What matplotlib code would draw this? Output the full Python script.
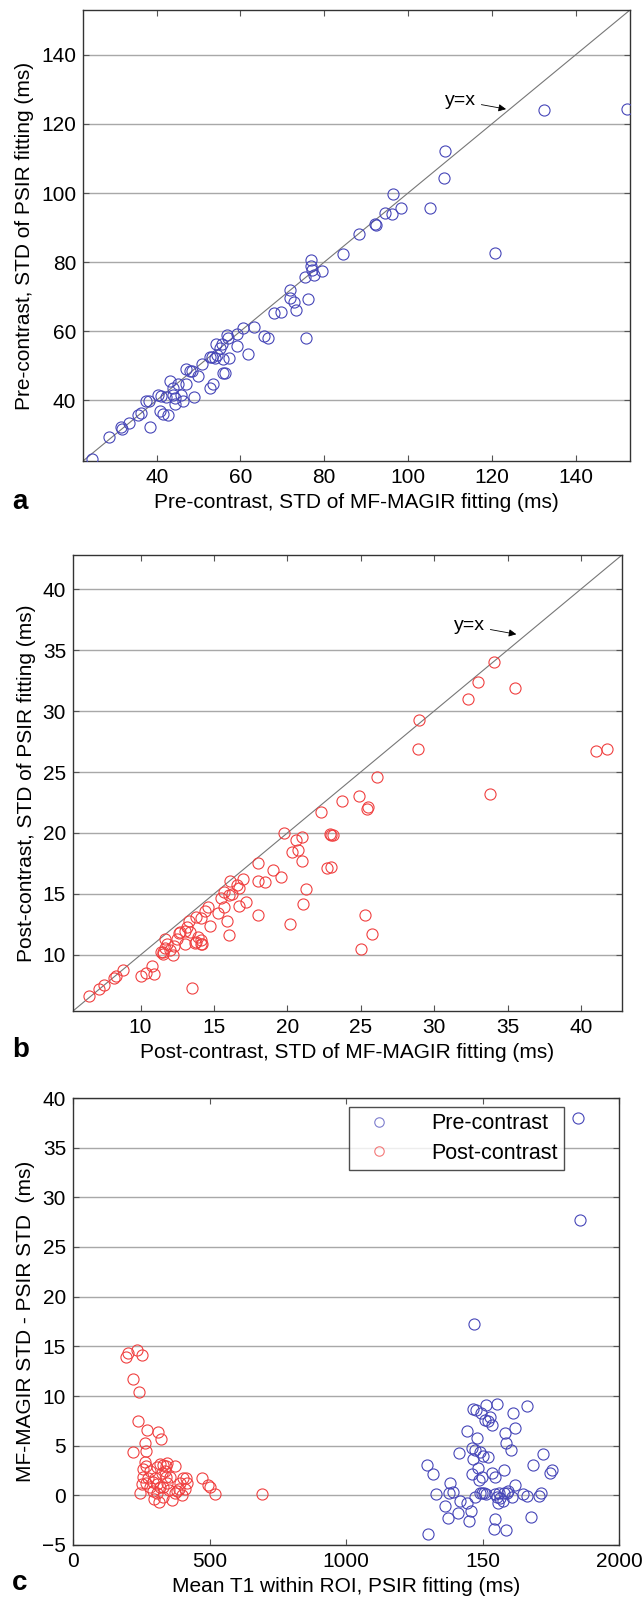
import matplotlib
matplotlib.use("Agg")
import matplotlib.pyplot as plt

plt.rcParams['font.family'] = ['Liberation Sans', 'DejaVu Sans']

# --- panel a: pre-contrast STD, MF-MAGIR vs PSIR ---
pre_magir = [132.4, 152.4, 108.8, 108.5, 96.4, 98.3, 94.4, 96.1, 105.2, 92.1, 92.3, 88.4,
             84.4, 120.7, 76.9, 24.5, 28.6, 31.5, 31.6, 33.4, 35.5, 36.3, 38.5, 37.5, 38.2,
             40.7, 41.5, 42.7, 40.3, 41.1, 42.2, 43.1, 43.9, 44.3, 44.3, 45.1, 46.3, 47.0,
             47.0, 47.9, 48.5, 48.9, 49.9, 50.7, 52.7, 53.5, 52.7, 53.3, 53.9, 54.1, 55.1,
             55.9, 56.3, 55.9, 56.7, 57.2, 57.1, 59.1, 59.1, 60.5, 61.9, 63.3, 65.5, 66.5,
             68.0, 69.6, 71.9, 71.9, 72.7, 73.3, 75.3, 76.1, 75.7, 76.9, 77.1, 77.6, 79.5,
             43.9, 45.9, 54.5, 55.7]
pre_psir = [124.1, 124.4, 112.3, 104.4, 99.8, 95.7, 94.3, 93.8, 95.7, 91.1, 90.7, 88.0,
            82.2, 82.5, 78.8, 23.1, 29.4, 32.2, 31.7, 33.4, 35.6, 36.3, 32.2, 39.9, 39.9,
            37.0, 36.0, 35.6, 41.4, 41.2, 40.9, 45.5, 43.6, 40.7, 38.8, 44.6, 39.9, 44.6,
            49.1, 48.4, 48.6, 41.0, 47.0, 50.4, 43.6, 44.6, 52.5, 52.6, 52.1, 56.2, 55.2,
            51.8, 47.9, 47.9, 59.0, 52.3, 58.1, 59.2, 55.6, 60.8, 53.4, 61.2, 58.6, 58.1,
            65.3, 65.6, 71.9, 69.5, 68.5, 66.0, 75.7, 69.2, 58.1, 80.6, 77.6, 76.4, 77.4,
            41.6, 41.6, 53.2, 56.3]

# --- panel b: post-contrast STD ---
post_magir = [34.1, 33.0, 32.3, 35.5, 29.0, 28.9, 41.0, 41.8, 26.1, 24.9, 33.8, 23.7,
              25.4, 25.5, 23.0, 23.0, 25.3, 25.8, 25.0, 22.3, 19.8, 20.6, 21.0, 20.3, 20.7,
              21.0, 22.9, 23.1, 22.7, 18.0, 19.0, 19.6, 18.0, 18.5, 21.3, 21.1, 20.2, 18.0,
              17.2, 16.7, 17.0, 16.6, 16.7, 16.1, 16.0, 16.2, 15.7, 15.5, 15.7, 15.3, 15.9,
              16.0, 14.6, 14.4, 14.1, 13.8, 14.7, 13.9, 14.1, 14.2, 13.7, 13.3, 13.2, 13.4,
              13.0, 12.7, 12.6, 13.0, 12.3, 11.7, 11.7, 11.4, 11.5, 6.5, 7.2, 7.5, 8.2, 8.3,
              8.8, 10.0, 10.4, 10.8, 10.9, 11.5, 11.8, 12.0, 12.2, 13.5, 13.8, 14.1, 12.5]
post_psir = [34.0, 32.4, 31.0, 31.9, 29.3, 26.9, 26.7, 26.9, 24.6, 23.0, 23.2, 22.6,
             22.0, 22.1, 19.8, 17.2, 13.3, 11.7, 10.5, 21.7, 20.0, 19.4, 19.7, 18.4, 18.6,
             17.7, 19.9, 19.8, 17.1, 17.5, 17.0, 16.4, 16.1, 16.0, 15.4, 14.2, 12.5, 13.3,
             14.3, 14.0, 16.2, 15.7, 15.5, 16.1, 14.9, 15.0, 15.2, 14.7, 13.9, 13.4, 12.8,
             11.6, 13.9, 13.6, 13.0, 13.1, 12.4, 11.5, 10.9, 10.9, 11.0, 12.8, 12.3, 11.9,
             12.0, 11.9, 11.8, 10.9, 10.7, 11.3, 10.6, 10.2, 10.1, 6.6, 7.2, 7.5, 8.1, 8.3,
             8.8, 8.3, 8.5, 9.1, 8.4, 10.2, 10.9, 10.4, 10.0, 7.3, 11.1, 11.2, 11.3]

# --- panel c: difference vs mean T1 ---
pre_t1 = [1851, 1856, 1470, 1302, 1298, 1318, 1330, 1363, 1381, 1379, 1393, 1375, 1409,
          1418, 1414, 1444, 1451, 1458, 1442, 1463, 1466, 1460, 1473, 1466, 1476, 1481,
          1485, 1491, 1488, 1497, 1491, 1497, 1505, 1512, 1493, 1509, 1503, 1513, 1519,
          1527, 1520, 1536, 1534, 1546, 1552, 1546, 1552, 1562, 1564, 1558, 1574, 1579,
          1579, 1589, 1582, 1586, 1603, 1595, 1613, 1619, 1619, 1607, 1546, 1543, 1585,
          1649, 1662, 1664, 1678, 1686, 1708, 1714, 1723, 1747, 1753, 1473]
pre_diff = [38.0, 27.7, 17.2, -3.9, 3.1, 2.1, 0.1, -1.1, 1.2, 0.2, 0.3, -2.3, -1.8,
            -0.6, 4.3, 6.5, -2.6, -1.6, -0.8, 4.8, 3.7, 2.1, -0.2, 8.7, 8.6, 5.8,
            2.8, 4.4, 1.5, 1.8, 0.2, 0.2, 0.2, 0.1, 8.3, 7.6, 4.0, 9.1, 3.9,
            7.9, 7.5, 7.1, 2.2, 1.8, 9.2, 0.1, -0.2, 0.2, -0.3, -0.8, -0.6, 2.6,
            0.2, 0.2, 6.3, 5.3, 4.6, 0.4, 8.3, 6.8, 1.0, -0.2, -2.4, -3.4, -3.5,
            0.1, -0.1, 9.0, -2.2, 3.1, -0.1, 0.2, 4.2, 2.2, 2.6, 4.6]
post_t1 = [193, 203, 233, 252, 219, 243, 237, 272, 312, 322, 264, 221, 267, 264, 267,
           258, 319, 330, 341, 345, 374, 337, 325, 282, 258, 275, 252, 245, 267, 282,
           294, 300, 306, 318, 292, 306, 298, 315, 331, 331, 343, 341, 355, 353, 361,
           374, 381, 389, 392, 402, 414, 416, 410, 398, 471, 496, 503, 520, 693, 306]
post_diff = [13.9, 14.3, 14.6, 14.1, 11.7, 10.4, 7.5, 6.6, 6.4, 5.7, 5.3, 4.4, 4.5, 3.4, 3.0,
             2.7, 3.2, 3.1, 3.0, 3.3, 3.0, 2.5, 2.2, 2.4, 1.8, 1.7, 1.1, 0.2, 1.2, 0.8,
             1.3, 1.7, 1.1, 0.8, 0.4, 0.2, -0.4, -0.7, -0.2, 0.8, 1.2, 1.8, 1.8, 0.5, -0.5,
             0.2, 0.4, 0.6, 1.2, 1.7, 1.7, 1.2, 0.6, 0.0, 1.7, 1.0, 0.8, 0.1, 0.1, 2.9]

BLUE = '#4646b8'
RED = '#f04040'
FS = 15
W, H = 644, 1600


def new_axes(left, top, right, bottom):
    return fig.add_axes([left / W, 1 - bottom / H, (right - left) / W, (bottom - top) / H])


def style(ax):
    ax.grid(True, axis='y', color='#a8a8a8', lw=1.0)
    ax.set_axisbelow(True)
    for s in ax.spines.values():
        s.set_color('#333333')
        s.set_linewidth(1.0)
    ax.tick_params(direction='in', top=True, right=True, length=4, width=0.8,
                   color='#555555', labelsize=FS, pad=5)


fig = plt.figure(figsize=(W / 100, H / 100), dpi=100)

# panel a
ax1 = new_axes(83, 10, 630, 461)
lim_a = (22.4, 153.0)
ax1.plot(lim_a, lim_a, color='#777777', lw=0.8, zorder=2)
ax1.plot(pre_magir, pre_psir, 'o', mfc='none', mec=BLUE, ms=8, mew=0.8, zorder=3)
ax1.set_xlim(lim_a)
ax1.set_ylim(lim_a)
ax1.set_xticks([40, 60, 80, 100, 120, 140])
ax1.set_yticks([40, 60, 80, 100, 120, 140])
ax1.annotate('y=x', xy=(123.4, 124.3), xytext=(112.5, 126.7), ha='center', va='center',
             fontsize=14, arrowprops=dict(arrowstyle='-|>', color='black', lw=0.6,
                                          mutation_scale=11, shrinkA=2, shrinkB=0))
ax1.set_xlabel('Pre-contrast, STD of MF-MAGIR fitting (ms)', fontsize=FS, labelpad=4)
ax1.set_ylabel('Pre-contrast, STD of PSIR fitting (ms)', fontsize=FS, labelpad=5)
style(ax1)
fig.text(12 / W, 1 - 502 / H, 'a', fontsize=20, fontweight='bold', va='center')

# panel b
ax2 = new_axes(73, 555, 622, 1011)
lim_b = (5.4, 42.8)
ax2.plot(lim_b, lim_b, color='#777777', lw=0.8, zorder=2)
ax2.plot(post_magir, post_psir, 'o', mfc='none', mec=RED, ms=8, mew=0.8, zorder=3)
ax2.set_xlim(lim_b)
ax2.set_ylim(lim_b)
ax2.set_xticks([10, 15, 20, 25, 30, 35, 40])
ax2.set_yticks([10, 15, 20, 25, 30, 35, 40])
ax2.annotate('y=x', xy=(35.6, 36.3), xytext=(32.4, 37.0), ha='center', va='center',
             fontsize=14, arrowprops=dict(arrowstyle='-|>', color='black', lw=0.6,
                                          mutation_scale=11, shrinkA=2, shrinkB=0))
ax2.set_xlabel('Post-contrast, STD of MF-MAGIR fitting (ms)', fontsize=FS, labelpad=4)
ax2.set_ylabel('Post-contrast, STD of PSIR fitting (ms)', fontsize=FS, labelpad=5)
style(ax2)
fig.text(12 / W, 1 - 1050 / H, 'b', fontsize=20, fontweight='bold', va='center')

# panel c
ax3 = new_axes(73, 1098, 619, 1545)
ax3.plot(pre_t1, pre_diff, 'o', mfc='none', mec=BLUE, ms=8, mew=0.8, label='Pre-contrast')
ax3.plot(post_t1, post_diff, 'o', mfc='none', mec=RED, ms=8, mew=0.8, label='Post-contrast')
ax3.set_xlim(0, 2000)
ax3.set_ylim(-5, 40)
ax3.set_xticks([0, 500, 1000, 1500, 2000])
ax3.set_xticklabels(['0', '500', '1000', '150', '2000'])
ax3.set_yticks(range(-5, 41, 5))
ax3.set_xlabel('Mean T1 within ROI, PSIR fitting (ms)', fontsize=FS, labelpad=4)
ax3.set_ylabel('MF-MAGIR STD - PSIR STD  (ms)', fontsize=FS, labelpad=5)
style(ax3)
leg = ax3.legend(loc='upper right', bbox_to_anchor=(0.899, 0.98), borderaxespad=0,
                 fontsize=15.5, frameon=True, fancybox=False, edgecolor='#222222',
                 handlelength=2.2, handletextpad=1.3, borderpad=0.3, labelspacing=0.4,
                 markerscale=0.85)
leg.get_frame().set_linewidth(1.0)
for h in leg.legend_handles:
    h.set_alpha(0.7)
fig.text(12 / W, 1 - 1583 / H, 'c', fontsize=20, fontweight='bold', va='center')

fig.savefig('out.png', dpi=100)
